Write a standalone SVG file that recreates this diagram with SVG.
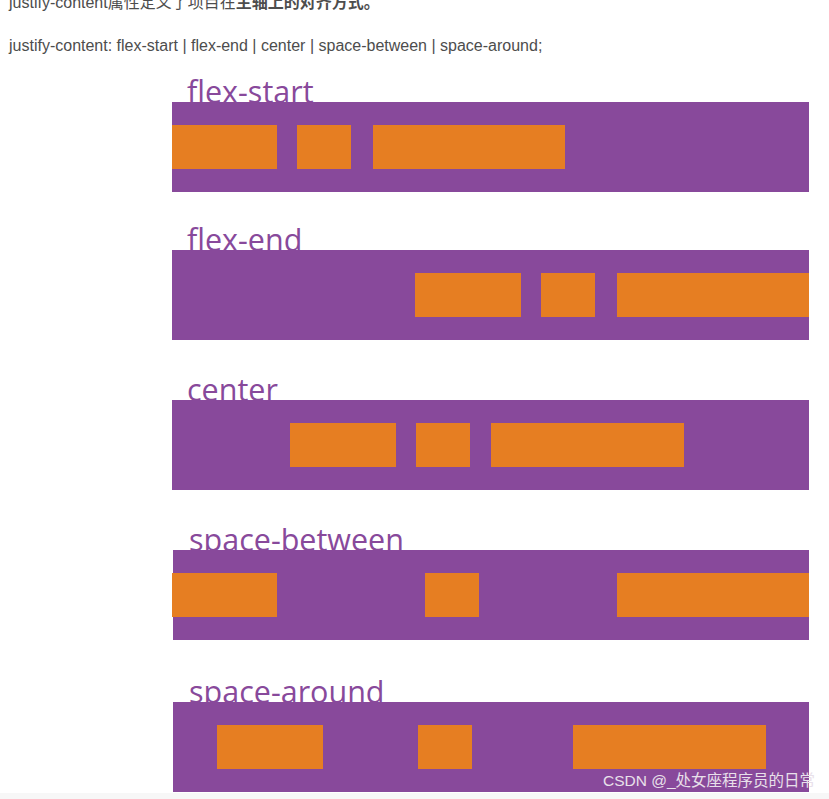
<svg xmlns="http://www.w3.org/2000/svg" width="829" height="799" viewBox="0 0 829 799">
<style>
.body{font-family:"Liberation Sans",Arial,"Noto Sans CJK SC",sans-serif;font-size:16px;fill:#4d4d4d}
.b{font-weight:bold}
.lbl{font-family:"Open Sans","Noto Sans",sans-serif;font-size:30.5px;fill:#88499b}
.band{fill:#88499b}
.item{fill:#e67e22}
.wm{font-family:"Liberation Sans",Arial,"Noto Sans CJK SC",sans-serif;font-size:15.5px;fill:#e8e0ea}
</style>
<rect width="829" height="799" fill="#ffffff"/>
<rect x="0" y="793" width="829" height="6" fill="#f7f7f7"/>
<text class="body" x="9" y="8">justify-content属性定义了项目在<tspan class="b">主轴上的对齐方式。</tspan></text>
<text class="body" x="9" y="51">justify-content: flex-start | flex-end | center | space-between | space-around;</text>

<g id="flex-start">
<text class="lbl" x="187" y="103">flex-start</text>
<rect class="band" x="172" y="102" width="637" height="90"/>
<rect class="item" x="172" y="125" width="105" height="44"/>
<rect class="item" x="297" y="125" width="54" height="44"/>
<rect class="item" x="373" y="125" width="192" height="44"/>
</g>

<g id="flex-end">
<text class="lbl" x="187" y="251">flex-end</text>
<rect class="band" x="172" y="250" width="637" height="90"/>
<rect class="item" x="415" y="273" width="106" height="44"/>
<rect class="item" x="541" y="273" width="54" height="44"/>
<rect class="item" x="617" y="273" width="192" height="44"/>
</g>

<g id="center">
<text class="lbl" x="187" y="401">center</text>
<rect class="band" x="172" y="400" width="637" height="90"/>
<rect class="item" x="290" y="423" width="106" height="44"/>
<rect class="item" x="416" y="423" width="54" height="44"/>
<rect class="item" x="491" y="423" width="193" height="44"/>
</g>

<g id="space-between">
<text class="lbl" x="189" y="551">space-between</text>
<rect class="band" x="173" y="550" width="636" height="90"/>
<rect class="item" x="172" y="573" width="105" height="44"/>
<rect class="item" x="425" y="573" width="54" height="44"/>
<rect class="item" x="617" y="573" width="192" height="44"/>
</g>

<g id="space-around">
<text class="lbl" x="189" y="703">space-around</text>
<rect class="band" x="173" y="702" width="636" height="90"/>
<rect class="item" x="217" y="725" width="106" height="44"/>
<rect class="item" x="418" y="725" width="54" height="44"/>
<rect class="item" x="573" y="725" width="193" height="44"/>
</g>

<text class="wm" x="603" y="786">CSDN @_处女座程序员的日常</text>
</svg>
